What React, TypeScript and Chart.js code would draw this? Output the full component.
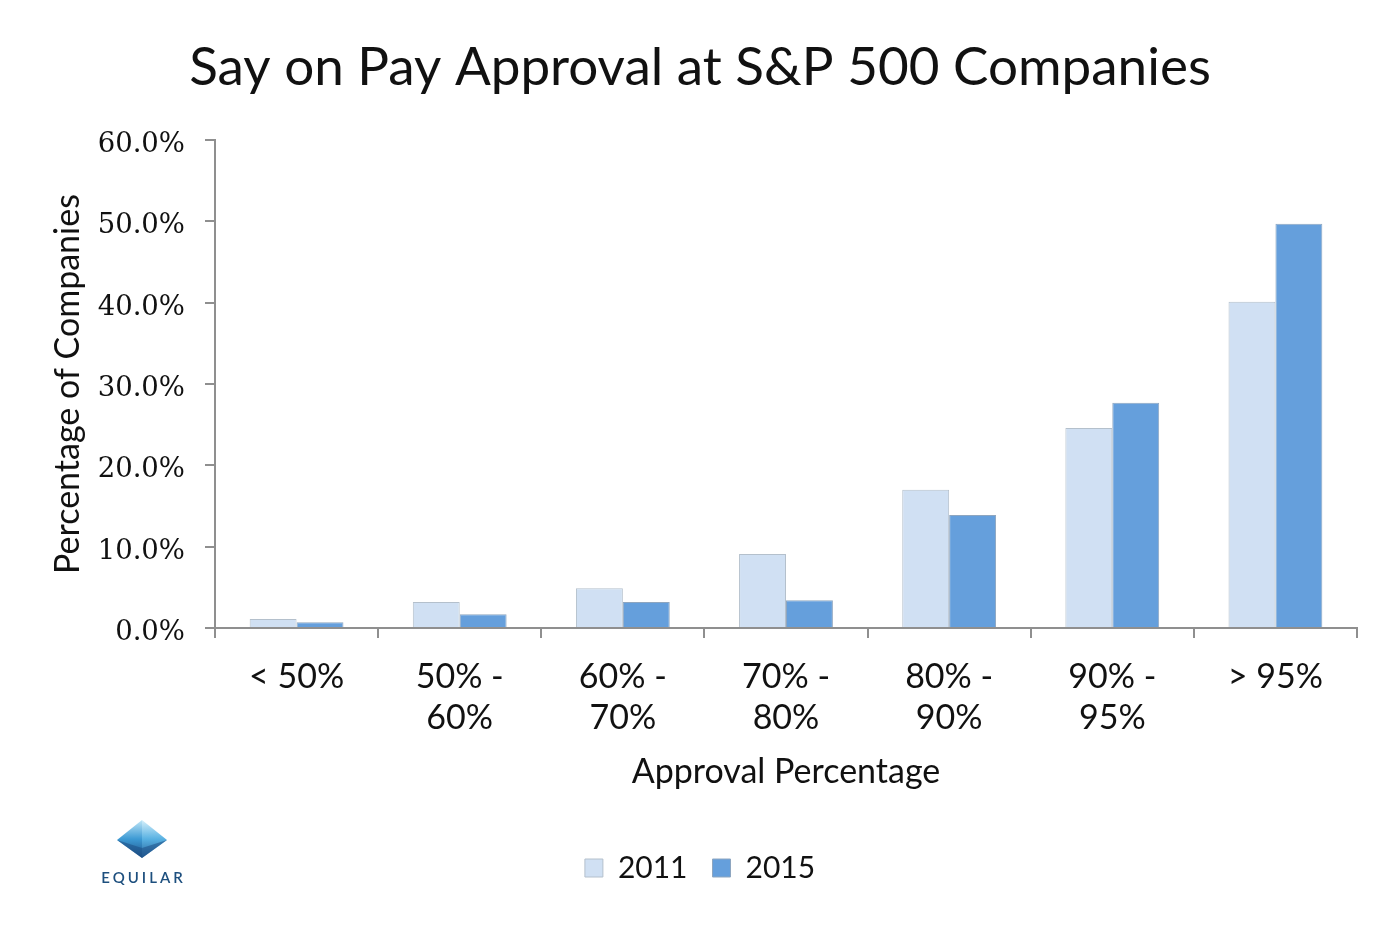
import React, { useEffect, useRef } from "react";
import { Chart, registerables } from "chart.js";

Chart.register(...registerables);

const categories: (string | string[])[] = [
  "< 50%",
  ["50% -", "60%"],
  ["60% -", "70%"],
  ["70% -", "80%"],
  ["80% -", "90%"],
  ["90% -", "95%"],
  "> 95%",
];
const seriesNames = ["2011", "2015"];
const values2011 = [1.1, 3.2, 4.9, 9.1, 17.0, 24.6, 40.1];
const values2015 = [0.7, 1.7, 3.2, 3.4, 13.9, 27.7, 49.7];
const yMin = 0;
const yMax = 60;
const yStep = 10;

const titleText = "Say on Pay Approval at S&P 500 Companies";
const xTitle = "Approval Percentage";
const yTitle = "Percentage of Companies";

const SANS = "Lato, 'Noto Sans', sans-serif";
const SERIF = "'DejaVu Serif', serif";
const AXIS = "#8f8f8f";

export default function App() {
  const canvasRef = useRef<HTMLCanvasElement | null>(null);

  useEffect(() => {
    const canvas = canvasRef.current;
    if (!canvas) return;
    const chart = new Chart(canvas, {
      type: "bar",
      data: {
        labels: categories,
        datasets: [
          {
            label: seriesNames[0],
            data: values2011,
            backgroundColor: "#d0e0f3",
            borderColor: "#b4c0cc",
            borderWidth: 1,
            categoryPercentage: 0.575,
            barPercentage: 1,
          },
          {
            label: seriesNames[1],
            data: values2015,
            backgroundColor: "#659fdc",
            borderColor: "#8ea6c0",
            borderWidth: 1,
            categoryPercentage: 0.575,
            barPercentage: 1,
          },
        ],
      },
      options: {
        responsive: false,
        animation: false,
        layout: { padding: { left: 0, right: 0, top: 0, bottom: 37 } },
        plugins: {
          title: {
            display: true,
            text: titleText,
            color: "#111",
            font: { family: SANS, size: 53, weight: "normal", lineHeight: 1.2 },
            padding: { top: 36, bottom: 40.4 },
          },
          legend: {
            display: true,
            position: "bottom",
            labels: {
              boxWidth: 18,
              boxHeight: 18,
              padding: 25,
              color: "#111",
              font: { family: SANS, size: 30 },
            },
          },
          tooltip: { enabled: false },
        },
        scales: {
          x: {
            afterFit: (s: any) => {
              s.height = 200;
            },
            grid: {
              display: true,
              offset: true,
              drawOnChartArea: false,
              drawTicks: true,
              tickLength: 10,
              color: AXIS,
              lineWidth: 2,
            },
            border: { display: true, color: AXIS, width: 2 },
            ticks: {
              color: "#111",
              padding: 19,
              maxRotation: 0,
              font: { family: SANS, size: 34, lineHeight: 1.2 },
            },
            title: {
              display: true,
              text: xTitle,
              color: "#111",
              font: { family: SANS, size: 34, lineHeight: 1.2 },
              padding: { top: 0, bottom: 36 },
            },
          },
          y: {
            min: yMin,
            max: yMax,
            afterFit: (s: any) => {
              s.width = 215;
            },
            grid: {
              display: true,
              drawOnChartArea: false,
              drawTicks: true,
              tickLength: 10,
              color: AXIS,
              lineWidth: 2,
            },
            border: { display: true, color: AXIS, width: 2 },
            ticks: {
              stepSize: yStep,
              color: "#111",
              padding: 20,
              labelOffset: 5,
              font: { family: SERIF, size: 27.5 },
              callback: (v: any) => Number(v).toFixed(1) + "%",
            },
            title: {
              display: true,
              text: yTitle,
              color: "#111",
              font: { family: SANS, size: 34, lineHeight: 1.2 },
              padding: { top: 48, bottom: 0 },
            },
          },
          spacer: {
            type: "linear",
            position: "right",
            display: true,
            afterFit: (s: any) => {
              s.width = 43;
            },
            grid: { display: false, drawTicks: false },
            border: { display: false },
            ticks: { display: false },
          },
        },
      },
    });
    return () => chart.destroy();
  }, []);

  return (
    <div
      style={{
        position: "fixed",
        left: 0,
        top: 0,
        width: 1400,
        height: 930,
        background: "#fff",
      }}
    >
      <canvas ref={canvasRef} width={1400} height={930} style={{ display: "block" }} />
      <div
        style={{
          position: "absolute",
          left: 96,
          top: 818,
          width: 92,
          textAlign: "center",
        }}
      >
        <svg width="54" height="42" viewBox="0 0 54 42" style={{ display: "block", margin: "0 auto" }}>
          <defs>
            <linearGradient id="pyrL" x1="0" y1="0" x2="0" y2="1">
              <stop offset="0" stopColor="#bfe6f7" />
              <stop offset="0.5" stopColor="#3d9ad4" />
              <stop offset="1" stopColor="#1c4f86" />
            </linearGradient>
            <linearGradient id="pyrR" x1="0" y1="0" x2="0" y2="1">
              <stop offset="0" stopColor="#d6f0fb" />
              <stop offset="0.5" stopColor="#58b1e2" />
              <stop offset="1" stopColor="#245f99" />
            </linearGradient>
          </defs>
          <polygon points="27,2 2,22 27,40" fill="url(#pyrL)" />
          <polygon points="27,2 52,22 27,40" fill="url(#pyrR)" />
          <polygon points="2,22 27,40 52,22 27,30" fill="#1d4f85" opacity="0.55" />
        </svg>
        <div
          style={{
            fontFamily: "Lato, 'Noto Sans', sans-serif",
            fontSize: 15,
            fontWeight: 600,
            letterSpacing: 3,
            color: "#1d4f7e",
            marginTop: 8,
            marginLeft: 3,
          }}
        >
          EQUILAR
        </div>
      </div>
    </div>
  );
}
